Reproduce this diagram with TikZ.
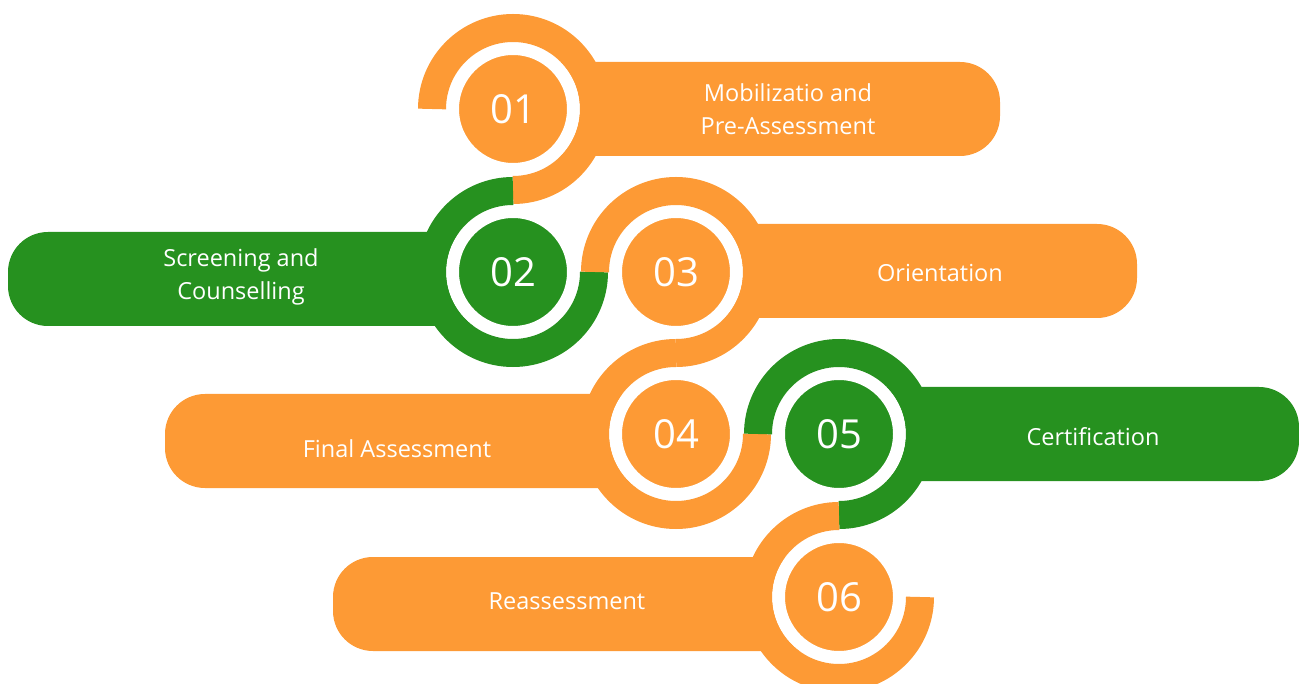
\documentclass[tikz,border=0pt]{standalone}
\usepackage{fontspec}
\setmainfont{Open Sans}
\usetikzlibrary{calc}

\definecolor{stepor}{RGB}{253,154,53}
\definecolor{stepgr}{RGB}{38,145,31}

\tikzset{
	band/.style={line width=28pt},
	disc/.style={circle, inner sep=0pt, minimum size=121pt, draw=white, line width=13pt, text=white, font=\fontsize{40}{40}\selectfont},
	caption/.style={text=white, align=center, font=\fontsize{23.5}{33}\selectfont}
}

\begin{document}
\begin{tikzpicture}[x=1pt, y=-1pt]
		\useasboundingbox (0, 0) rectangle (1299, 684);

		% bars behind the circles
		\fill[stepor] (513, 62) [rounded corners=40]-- (1000, 62) -- (1000, 156) [sharp corners]-- (513, 156) -- cycle;
		\fill[stepgr] (513, 232) [rounded corners=40]-- (8, 232) -- (8, 326) [sharp corners]-- (513, 326) -- cycle;
		\fill[stepor] (676, 224) [rounded corners=40]-- (1137, 224) -- (1137, 318) [sharp corners]-- (676, 318) -- cycle;
		\fill[stepor] (676, 394) [rounded corners=40]-- (165, 394) -- (165, 488) [sharp corners]-- (676, 488) -- cycle;
		\fill[stepgr] (839, 387) [rounded corners=40]-- (1299, 387) -- (1299, 481) [sharp corners]-- (839, 481) -- cycle;
		\fill[stepor] (839, 557) [rounded corners=40]-- (333, 557) -- (333, 651) [sharp corners]-- (839, 651) -- cycle;

		\path (513, 109) node[disc, fill=stepor] (s1) {01}
			(513, 272) node[disc, fill=stepgr] (s2) {02}
			(676, 272) node[disc, fill=stepor] (s3) {03}
			(676, 434) node[disc, fill=stepor] (s4) {04}
			(839, 434) node[disc, fill=stepgr] (s5) {05}
			(839, 597) node[disc, fill=stepor] (s6) {06};

		% rings
		\draw[band, stepor] ($(s1)+(-81, 0)$) arc[start angle=-180, end angle=90, radius=81];
		\draw[band, stepgr] ($(s2)+(0, -81)$) arc[start angle=-90, end angle=-360, radius=81];
		\draw[band, stepor] ($(s3)+(-81, 0)$) arc[start angle=-180, end angle=90, radius=81];
		\draw[band, stepor] ($(s4)+(0, -81)$) arc[start angle=-90, end angle=-360, radius=81];
		\draw[band, stepgr] ($(s5)+(-81, 0)$) arc[start angle=-180, end angle=90, radius=81];
		\draw[band, stepor] ($(s6)+(0, -81)$) arc[start angle=-90, end angle=-360, radius=81];

		\path (788, 109) node[caption] (t1) {Mobilizatio and\\Pre-Assessment}
			(241, 277) node[caption] (t2) {Screening and\\Counselling}
			(940, 273) node[caption] (t3) {Orientation}
			(397, 449) node[caption] (t4) {Final Assessment}
			(1093, 437) node[caption] (t5) {Certification}
			(567, 601) node[caption] (t6) {Reassessment};
	\end{tikzpicture}
\end{document}
